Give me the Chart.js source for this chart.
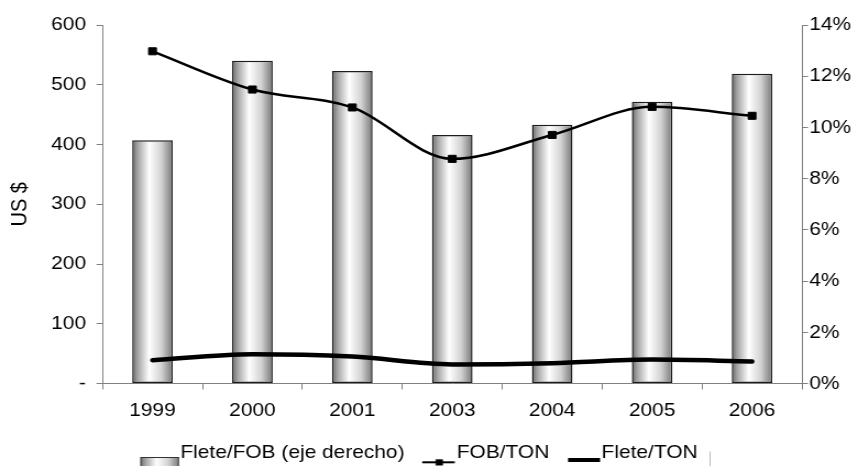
<!DOCTYPE html>
<html>
<head>
<meta charset="utf-8">
<script src="https://cdn.jsdelivr.net/npm/chart.js@4.4.1/dist/chart.umd.min.js"></script>
<style>
  html, body { margin: 0; padding: 0; background: #fff; overflow: hidden; }
  /* the drawing is laid out on a 780px canvas and widened to the 858px page */
  #wrap { position: absolute; left: 0; top: 0; width: 780px; height: 466px;
          transform: scaleX(1.1); transform-origin: 0 0; }
</style>
</head>
<body>
<div id="wrap"><canvas id="chart"></canvas></div>
<script>
// ---- data ----
const years     = ['1999', '2000', '2001', '2003', '2004', '2005', '2006'];
const fleteFob  = [9.5, 12.6, 12.2, 9.7, 10.1, 11.0, 12.1];   // % (eje derecho)
const fobTon    = [556, 492, 462, 376, 416, 463, 448];        // US $ por tonelada
const fleteTon  = [39, 49, 45, 32, 34, 40, 37];               // US $ por tonelada
const usdTicks  = [0, 100, 200, 300, 400, 500, 600];
const pctTicks  = [0, 2, 4, 6, 8, 10, 12, 14];
const seriesNames = ['Flete/FOB (eje derecho)', 'FOB/TON', 'Flete/TON'];

// ---- styling ----
const FONT = "'Liberation Sans', Arial, sans-serif";
const AXIS = '#808080';
const BAR_PCT = 0.406;

function addSilverStops(g) {
  g.addColorStop(0, '#686868');
  g.addColorStop(0.14, '#a6a6a6');
  g.addColorStop(0.42, '#ffffff');
  g.addColorStop(0.72, '#d2d2d2');
  g.addColorStop(1, '#767676');
  return g;
}

// horizontal silver gradient across each bar
function barFill(c) {
  const chart = c.chart;
  const xs = chart.scales.x;
  if (!chart.chartArea || !xs || c.type !== 'data') return '#d0d0d0';
  const cx = xs.getPixelForValue(c.dataIndex);
  const half = (xs.width / years.length) * BAR_PCT / 2;
  return addSilverStops(chart.ctx.createLinearGradient(cx - half, 0, cx + half, 0));
}

// small legend symbols (drawn centred on each legend box)
function symbol(w, h, draw) {
  const cv = document.createElement('canvas');
  cv.width = w; cv.height = h;
  draw(cv.getContext('2d'));
  return cv;
}
const symBar = symbol(48, 32, g => {
  g.fillStyle = addSilverStops(g.createLinearGradient(12, 0, 47.5, 0));
  g.fillRect(12, 20, 35.5, 12);
  g.strokeStyle = '#333'; g.lineWidth = 1;
  g.strokeRect(12.5, 20.5, 34.5, 12);
});
const symFob = symbol(46, 32, g => {
  g.strokeStyle = '#000'; g.lineWidth = 2;
  g.beginPath(); g.moveTo(16, 25.3); g.lineTo(45.5, 25.3); g.stroke();
  g.fillStyle = '#000';
  g.fillRect(28.2, 22.3, 6.6, 6.2);
});
const symFlete = symbol(48, 32, g => {
  g.strokeStyle = '#000'; g.lineWidth = 4;
  g.beginPath(); g.moveTo(18, 23); g.lineTo(47.2, 23); g.stroke();
});

// thin grey rule that closes the legend row on the right
const legendRule = {
  id: 'legendRule',
  afterDraw(chart) {
    const lg = chart.legend;
    if (!lg || !lg.legendHitBoxes || !lg.legendHitBoxes.length) return;
    const hb = lg.legendHitBoxes[lg.legendHitBoxes.length - 1];
    const x = Math.round(hb.left + hb.width + 10.5) + 0.5;
    const ctx = chart.ctx;
    ctx.save();
    ctx.strokeStyle = '#b8b8b8';
    ctx.lineWidth = 1;
    ctx.beginPath();
    ctx.moveTo(x, hb.top + 8);
    ctx.lineTo(x, chart.height);
    ctx.stroke();
    ctx.restore();
  }
};

const tickFont = { family: FONT, size: 19 };

new Chart(document.getElementById('chart'), {
  type: 'bar',
  data: {
    labels: years,
    datasets: [
      {
        type: 'bar',
        label: seriesNames[0],
        data: fleteFob,
        yAxisID: 'y1',
        backgroundColor: barFill,
        borderColor: '#1c1c1c',
        borderWidth: 1.5,
        borderSkipped: false,
        barPercentage: BAR_PCT,
        categoryPercentage: 1,
        order: 3
      },
      {
        type: 'line',
        label: seriesNames[1],
        data: fobTon,
        yAxisID: 'y',
        borderColor: '#000',
        borderWidth: 2.5,
        cubicInterpolationMode: 'monotone',
        fill: false,
        pointStyle: 'rect',
        pointRadius: 5,
        pointBackgroundColor: '#000',
        pointBorderColor: '#000',
        pointBorderWidth: 1,
        order: 1
      },
      {
        type: 'line',
        label: seriesNames[2],
        data: fleteTon,
        yAxisID: 'y',
        borderColor: '#000',
        borderWidth: 4.5,
        borderCapStyle: 'round',
        cubicInterpolationMode: 'monotone',
        fill: false,
        pointRadius: 0,
        order: 2
      }
    ]
  },
  options: {
    responsive: true,
    maintainAspectRatio: false,
    animation: false,
    events: [],
    // the legend row sits a little left of centre, hence the negative left inset
    layout: { padding: { top: 25, left: -21.4, right: 0, bottom: -6.5 } },
    scales: {
      x: {
        type: 'category',
        offset: true,
        afterFit: s => { s.height = 52; },
        grid: { display: true, offset: true, drawOnChartArea: false, drawTicks: true,
                tickLength: 6, color: AXIS, lineWidth: 1 },
        border: { display: true, color: AXIS, width: 1 },
        ticks: { font: tickFont, color: '#000', padding: 9.6, maxRotation: 0, autoSkip: false }
      },
      y: {
        position: 'left',
        min: 0, max: 600,
        afterFit: s => { s.width = 114.6; },
        afterBuildTicks: s => { s.ticks = usdTicks.map(v => ({ value: v })); },
        grid: { display: true, drawOnChartArea: false, drawTicks: true,
                tickLength: 5.5, color: AXIS, lineWidth: 1 },
        border: { display: true, color: AXIS, width: 1 },
        ticks: { font: tickFont, color: '#000', padding: 9.5,
                 callback: v => (v === 0 ? '-' : String(v)) },
        title: { display: true, text: 'US $', color: '#000',
                 font: { family: FONT, size: 20 }, padding: { top: 28, bottom: 0 } }
      },
      y1: {
        position: 'right',
        min: 0, max: 14,
        afterFit: s => { s.width = 50.9; },
        afterBuildTicks: s => { s.ticks = pctTicks.map(v => ({ value: v })); },
        grid: { display: true, drawOnChartArea: false, drawTicks: true,
                tickLength: 5.5, color: AXIS, lineWidth: 1 },
        border: { display: true, color: AXIS, width: 1 },
        ticks: { font: tickFont, color: '#000', padding: 1.1,
                 callback: v => v + '%' }
      }
    },
    plugins: {
      tooltip: { enabled: false },
      legend: {
        position: 'bottom',
        align: 'center',
        onClick: null,
        labels: {
          usePointStyle: true,
          pointStyleWidth: 30,
          padding: 8,
          color: '#000',
          font: { family: FONT, size: 19 },
          generateLabels: () => [
            { text: seriesNames[0], pointStyle: symBar, datasetIndex: 0, hidden: false, fontColor: '#000', lineWidth: 0 },
            { text: seriesNames[1], pointStyle: symFob, datasetIndex: 1, hidden: false, fontColor: '#000', lineWidth: 0 },
            { text: seriesNames[2], pointStyle: symFlete, datasetIndex: 2, hidden: false, fontColor: '#000', lineWidth: 0 }
          ]
        }
      }
    }
  },
  plugins: [legendRule]
});
</script>
</body>
</html>
